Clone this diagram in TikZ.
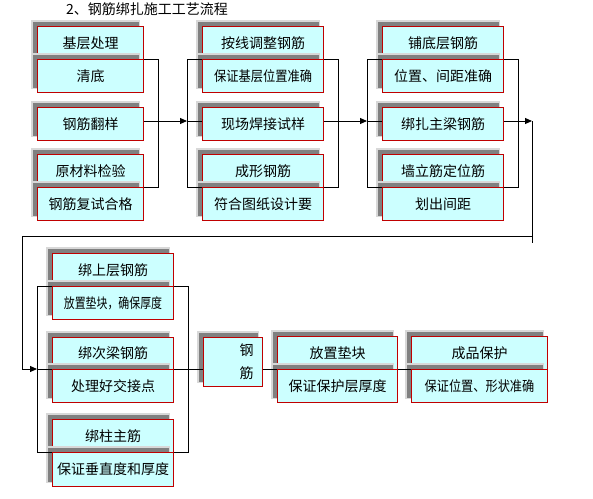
\documentclass[tikz,border=0pt]{standalone}
\usepackage{fontspec}
\setmainfont{Noto Sans CJK SC}
\usepackage{graphicx}
\usetikzlibrary{arrows.meta,calc}
\definecolor{boxfill}{HTML}{CCFFFF}
\definecolor{boxline}{HTML}{C00000}
\definecolor{shadowdark}{HTML}{808080}
\definecolor{shadowlight}{HTML}{D8D8D8}
\tikzset{
  box/.style={draw=boxline, fill=boxfill, line width=1pt, inner sep=0pt, anchor=north west,
    font=\fontsize{14}{16}\selectfont},
  conn/.style={draw=black, line width=1pt},
  arr/.style={conn, -{Triangle[length=7pt,width=6pt]}},
  titletext/.style={anchor=west, inner sep=0pt, font=\fontsize{14}{16}\selectfont},
}
\newcommand\mybox[7][]{%
  \fill[shadowlight] (#3-6,#4-6) rectangle (#3+#5-3,#4+#6-3);
  \fill[shadowdark] (#3-4,#4-4) rectangle (#3+#5-4,#4+#6-4);
  \node[box, minimum width=#5pt, minimum height=#6pt, #1] (#2) at (#3,#4) {#7};}
\begin{document}
\begin{tikzpicture}[x=1pt,y=-1pt]
\fill[white] (0,0) rectangle (593,498);
\useasboundingbox (0,0) rectangle (593,498);

\node[titletext] (title) at (66,9) {2、钢筋绑扎施工工艺流程};

% column 1
\mybox{a1}{37}{26}{106}{33}{基层处理}
\mybox{a2}{37}{59}{106}{33}{清底}
\mybox{a3}{37}{107}{106}{33}{钢筋翻样}
\mybox{a4}{37}{154}{106}{33}{原材料检验}
\mybox{a5}{37}{187}{106}{33}{钢筋复试合格}
% column 2
\mybox{b1}{202}{26}{121}{33}{按线调整钢筋}
\mybox{b2}{202}{59}{121}{33}{\scalebox{0.875}[1]{保证基层位置准确}}
\mybox{b3}{202}{107}{121}{33}{现场焊接试样}
\mybox{b4}{202}{154}{121}{33}{成形钢筋}
\mybox{b5}{202}{187}{121}{33}{符合图纸设计要}
% column 3
\mybox{c1}{382}{26}{121}{33}{铺底层钢筋}
\mybox{c2}{382}{59}{121}{33}{位置、间距准确}
\mybox{c3}{382}{107}{121}{33}{绑扎主梁钢筋}
\mybox{c4}{382}{154}{121}{33}{墙立筋定位筋}
\mybox{c5}{382}{187}{121}{33}{划出间距}
% column 4
\mybox{d1}{52}{253}{121}{33}{绑上层钢筋}
\mybox{d2}{52}{286}{121}{33}{\scalebox{0.78}[1]{放置垫块，确保厚度}}
\mybox{d3}{52}{337}{121}{32}{绑次梁钢筋}
\mybox{d4}{52}{369}{121}{33}{处理好交接点}
\mybox{d5}{52}{419}{121}{33}{绑柱主筋}
\mybox{d6}{52}{452}{121}{34}{保证垂直度和厚度}
% steel box
\mybox[text width=41pt, inner xsep=9pt, align=right, font=\fontsize{14}{23}\selectfont]{e}{203}{337}{59}{49}{钢\\筋}
\mybox{f1}{277}{336}{120}{33}{放置垫块}
\mybox{f2}{277}{369}{120}{33}{保证保护层厚度}
\mybox{g1}{411}{336}{136}{33}{成品保护}
\mybox{g2}{411}{369}{136}{33}{\scalebox{0.87}[1]{保证位置、形状准确}}

% connectors, column 1 -> 2
\draw[conn] (a2.north east) -- ++(14,0) |- (a5.north east);
\coordinate (m1) at ($(a3.north east)+(0,14)$);
\coordinate (j1) at ($(b3.north west)+(-15,14)$);
\coordinate (n1) at ($(b3.north west)+(0,14)$);
\draw[arr] (m1) -- (j1);
\draw[conn] (j1) -- (n1);
\draw[conn] (b2.north west) -- ++(-15,0) |- (b5.north west);
% column 2 -> 3
\draw[conn] (b2.north east) -- ++(14,0) |- (b5.north east);
\coordinate (m2) at ($(b3.north east)+(0,14)$);
\coordinate (j2) at ($(c3.north west)+(-15,14)$);
\coordinate (n2) at ($(c3.north west)+(0,14)$);
\draw[arr] (m2) -- (j2);
\draw[conn] (j2) -- (n2);
\draw[conn] (c2.north west) -- ++(-15,0) |- (c5.north west);
% column 3 -> bottom row
\draw[conn] (c2.north east) -- ++(14,0) |- (c5.north east);
\coordinate (m3) at ($(c3.north east)+(0,14)$);
\coordinate (j3) at ($(m3)+(28,0)$);
\draw[arr] (m3) -- (j3);
\coordinate (j3b) at ($(j3)+(0,122)$);
\draw[conn] (j3) -- (j3b);
\coordinate (k1) at (533,236);
\coordinate (k2) at (22,236);
\coordinate (j4) at ($(d4.north west)+(-15,0)$);
\coordinate (k3) at (k2 |- j4);
\draw[conn] (k1) -- (k2) -- (k3);
\draw[arr] (k3) -- (j4);
\draw[conn] (j4) -- (d4.north west);
\draw[conn] (d2.north west) -- ++(-15,0) |- (d6.north west);
\draw[conn] (d2.north east) -- ++(14,0) |- (d6.north east);
\draw[conn] (d4.north east) -- (d4.north east -| e.west);
\draw[conn] (e.east |- f2.north) -- (f2.north west);
\draw[conn] (f2.north east) -- (g2.north west);
\end{tikzpicture}
\end{document}
